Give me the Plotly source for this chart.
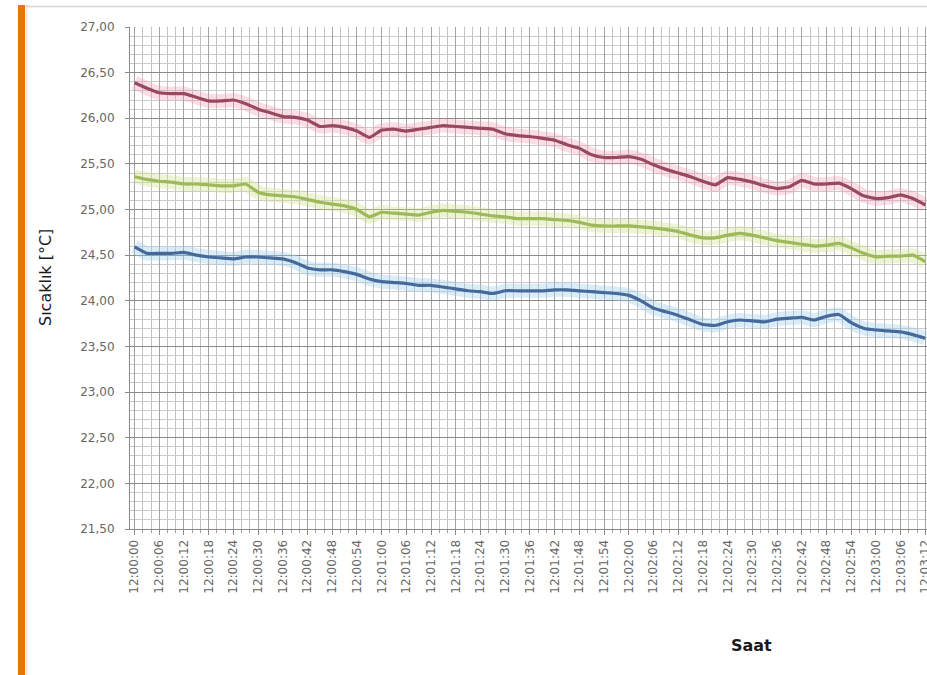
import plotly.graph_objects as go

# Elapsed seconds since 12:00:00, sampled every 3 s
seconds = [0, 3, 6, 9, 12, 15, 18, 21, 24, 27, 30, 33, 36, 39, 42, 45, 48, 51, 54, 57,
           60, 63, 66, 69, 72, 75, 78, 81, 84, 87, 90, 93, 96, 99, 102, 105, 108, 111,
           114, 117, 120, 123, 126, 129, 132, 135, 138, 141, 144, 147, 150, 153, 156,
           159, 162, 165, 168, 171, 174, 177, 180, 183, 186, 189, 192]

temp_red = [26.39, 26.33, 26.28, 26.27, 26.27, 26.23, 26.19, 26.19, 26.20, 26.16,
            26.10, 26.06, 26.02, 26.01, 25.98, 25.91, 25.92, 25.90, 25.86, 25.79,
            25.87, 25.88, 25.86, 25.88, 25.90, 25.92, 25.91, 25.90, 25.89, 25.88,
            25.83, 25.81, 25.80, 25.78, 25.76, 25.71, 25.67, 25.60, 25.57, 25.57,
            25.58, 25.55, 25.49, 25.44, 25.40, 25.36, 25.31, 25.27, 25.35, 25.33,
            25.30, 25.26, 25.23, 25.25, 25.32, 25.28, 25.28, 25.29, 25.23, 25.15,
            25.12, 25.13, 25.16, 25.12, 25.05]

temp_green = [25.36, 25.33, 25.31, 25.30, 25.28, 25.28, 25.27, 25.26, 25.26, 25.28,
              25.19, 25.16, 25.15, 25.14, 25.11, 25.08, 25.06, 25.04, 25.00, 24.92,
              24.97, 24.96, 24.95, 24.94, 24.97, 24.99, 24.98, 24.97, 24.95, 24.93,
              24.92, 24.90, 24.90, 24.90, 24.89, 24.88, 24.86, 24.83, 24.82, 24.82,
              24.82, 24.81, 24.80, 24.78, 24.76, 24.72, 24.69, 24.69, 24.72, 24.74,
              24.72, 24.69, 24.66, 24.64, 24.62, 24.60, 24.61, 24.63, 24.58, 24.52,
              24.48, 24.49, 24.49, 24.50, 24.43]

temp_blue = [24.59, 24.52, 24.52, 24.52, 24.53, 24.50, 24.48, 24.47, 24.46, 24.48,
             24.48, 24.47, 24.46, 24.42, 24.36, 24.34, 24.34, 24.32, 24.29, 24.24,
             24.21, 24.20, 24.19, 24.17, 24.17, 24.15, 24.13, 24.11, 24.10, 24.08,
             24.11, 24.11, 24.11, 24.11, 24.12, 24.12, 24.11, 24.10, 24.09, 24.08,
             24.06, 24.00, 23.92, 23.88, 23.84, 23.79, 23.74, 23.73, 23.77, 23.79,
             23.78, 23.77, 23.80, 23.81, 23.82, 23.79, 23.83, 23.85, 23.76, 23.70,
             23.68, 23.67, 23.66, 23.63, 23.59]

# Time-axis labels every 6 s
time_tick_seconds = list(range(0, 193, 6))
time_tick_labels = ["12:00:00", "12:00:06", "12:00:12", "12:00:18", "12:00:24",
                    "12:00:30", "12:00:36", "12:00:42", "12:00:48", "12:00:54",
                    "12:01:00", "12:01:06", "12:01:12", "12:01:18", "12:01:24",
                    "12:01:30", "12:01:36", "12:01:42", "12:01:48", "12:01:54",
                    "12:02:00", "12:02:06", "12:02:12", "12:02:18", "12:02:24",
                    "12:02:30", "12:02:36", "12:02:42", "12:02:48", "12:02:54",
                    "12:03:00", "12:03:06", "12:03:12"]

temp_ticks = [21.5, 22.0, 22.5, 23.0, 23.5, 24.0, 24.5, 25.0, 25.5, 26.0, 26.5, 27.0]
temp_tick_labels = ["21,50", "22,00", "22,50", "23,00", "23,50", "24,00",
                    "24,50", "25,00", "25,50", "26,00", "26,50", "27,00"]

W, H = 927, 675
ML, MR, MT, MB = 130, 0, 27, 146
PW, PH = W - ML - MR, H - MT - MB


def px_x(p):
    return (p - ML) / PW


def px_y(p):
    return (H - MB - p) / PH


series = [
    (temp_red, "#984860", "rgba(240,150,175,0.32)"),
    (temp_green, "#9db95a", "rgba(205,225,140,0.38)"),
    (temp_blue, "#45699b", "rgba(160,205,240,0.38)"),
]

fig = go.Figure()
# soft glow beneath each line
for vals, col, glow in series:
    fig.add_trace(go.Scatter(x=seconds, y=vals, mode="lines",
                             line=dict(color=glow, width=14, shape="spline", smoothing=0.4),
                             hoverinfo="skip", showlegend=False))
for vals, col, glow in series:
    fig.add_trace(go.Scatter(x=seconds, y=vals, mode="lines",
                             line=dict(color=col, width=3.2, shape="spline", smoothing=0.4),
                             showlegend=False))

tick_font = dict(family="DejaVu Sans", size=12, color="#666666")

fig.update_xaxes(
    range=[-1.1, 192.4], tickmode="array", tickvals=time_tick_seconds,
    ticktext=time_tick_labels, tickangle=-90, tickfont=tick_font,
    ticklabeloverflow="allow",
    showgrid=True, gridcolor="#a4a4a4", gridwidth=1,
    showline=True, linecolor="#8a8a8a", linewidth=1,
    ticks="outside", ticklen=5, tickcolor="#8a8a8a",
    minor=dict(tickmode="linear", tick0=0, dtick=2, showgrid=True,
               gridcolor="#c2c2c2", ticks="outside", ticklen=3, tickcolor="#a0a0a0"),
    zeroline=False, automargin=False, fixedrange=True,
)
fig.update_yaxes(
    range=[21.5, 27.0], tickmode="array", tickvals=temp_ticks,
    ticktext=temp_tick_labels, tickfont=tick_font,
    showgrid=True, gridcolor="#8a8a8a", gridwidth=1,
    showline=True, linecolor="#8a8a8a", linewidth=1,
    ticks="outside", ticklen=4, tickcolor="#8a8a8a", ticklabelstandoff=8,
    minor=dict(tickmode="linear", tick0=21.5, dtick=0.1, showgrid=True,
               gridcolor="#cbcbcb"),
    zeroline=False, automargin=False, fixedrange=True,
)

shapes = [
    # orange accent bar on the left edge
    dict(type="rect", xref="paper", yref="paper",
         x0=px_x(18), x1=px_x(25), y0=px_y(675), y1=px_y(5),
         fillcolor="#e8730f", line=dict(width=0), layer="above"),
    dict(type="line", xref="paper", yref="paper",
         x0=px_x(26.5), x1=px_x(26.5), y0=px_y(675), y1=px_y(5),
         line=dict(color="#fde6cf", width=2)),
    # thin frame line across the top
    dict(type="line", xref="paper", yref="paper",
         x0=px_x(26), x1=px_x(927), y0=px_y(6.5), y1=px_y(6.5),
         line=dict(color="#d6d6d6", width=1.5)),
]

annotations = [
    dict(text="Sıcaklık [°C]", xref="paper", yref="paper",
         x=px_x(45), y=px_y(278), textangle=-90, showarrow=False,
         xanchor="center", yanchor="middle",
         font=dict(family="DejaVu Sans", size=16, color="#1a1a1a")),
    dict(text="<b>Saat</b>", xref="paper", yref="paper",
         x=px_x(751), y=px_y(645), showarrow=False,
         xanchor="center", yanchor="middle",
         font=dict(family="DejaVu Sans", size=16, color="#1a1a1a")),
]

fig.update_layout(
    width=W, height=H,
    margin=dict(l=ML, r=MR, t=MT, b=MB),
    paper_bgcolor="white", plot_bgcolor="white",
    shapes=shapes, annotations=annotations,
    showlegend=False,
)

fig.write_html("out.html")
